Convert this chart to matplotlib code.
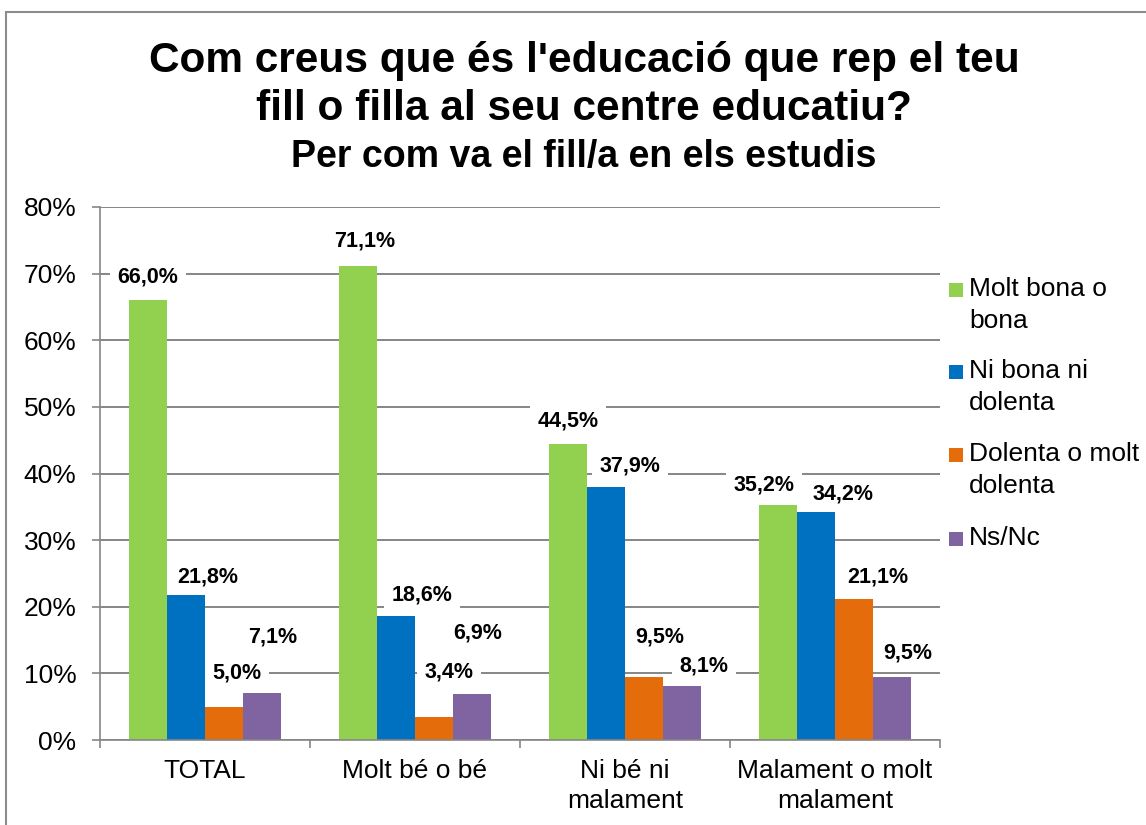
import matplotlib.pyplot as plt
from matplotlib.patches import Rectangle
import numpy as np

plt.rcParams['font.family'] = ['Liberation Sans', 'DejaVu Sans']

categories = ['TOTAL', 'Molt bé o bé', 'Ni bé ni\nmalament', 'Malament o molt\nmalament']
series_names = ['Molt bona o\nbona', 'Ni bona ni\ndolenta', 'Dolenta o molt\ndolenta', 'Ns/Nc']
molt_bona = [66.0, 71.1, 44.5, 35.2]
ni_bona = [21.8, 18.6, 37.9, 34.2]
dolenta = [5.0, 3.4, 9.5, 21.1]
ns_nc = [7.1, 6.9, 8.1, 9.5]
y_ticks = [0, 10, 20, 30, 40, 50, 60, 70, 80]

series = [molt_bona, ni_bona, dolenta, ns_nc]
colors = ['#92D050', '#0070C0', '#E46C0A', '#8064A2']

# label offsets from the top of each bar, in pixels (dx, dy), as placed in the original
label_offsets = [
    [(0, 23), (7, 25), (0, 23), (-14, 20)],
    [(22, 18), (26, 21), (24, 21), (27, 18)],
    [(13, 34), (15, 45), (16, 40), (24, 22)],
    [(11, 56), (6, 61), (22, 20), (16, 24)],
]

W, H = 1146, 825
fig = plt.figure(figsize=(W / 100, H / 100), dpi=100)
ax = fig.add_axes([100 / W, 1 - 740 / H, 840 / W, 533 / H])

x = np.arange(len(categories))
bw = 0.181
px = 0.72  # pixels -> points

for i, vals in enumerate(series):
    pos = x + (i - 1.5) * bw
    ax.bar(pos, vals, width=bw, color=colors[i], zorder=2)
    for j, v in enumerate(vals):
        dx, dy = label_offsets[i][j]
        ax.annotate(f"{v:.1f}".replace('.', ',') + '%', (pos[j], v),
                    xytext=(dx * px, dy * px), textcoords='offset points',
                    ha='center', va='center', fontsize=15.5, fontweight='bold',
                    bbox=dict(boxstyle='square,pad=0.35', fc='white', ec='none'),
                    zorder=3)

ax.set_xlim(-0.5, 3.5)
ax.set_ylim(0, 80)
ax.set_yticks(y_ticks)
ax.set_yticklabels([f"{t}%" for t in y_ticks], fontsize=19)
ax.set_xticks(x)
ax.set_xticklabels(categories, fontsize=19, linespacing=1.3)
ax.set_xticks(np.arange(-0.5, 4, 1), minor=True)
ax.tick_params(axis='x', which='major', length=0, pad=14)
ax.tick_params(axis='x', which='minor', length=6, color='#868686', width=1.2)
ax.tick_params(axis='y', length=6, color='#868686', width=1.2, pad=11)
ax.grid(axis='y', color='#868686', linewidth=1.4, zorder=0)
ax.set_axisbelow(True)
for s in ['top', 'right']:
    ax.spines[s].set_visible(False)
for s in ['left', 'bottom']:
    ax.spines[s].set_color('#868686')
    ax.spines[s].set_linewidth(1.2)

# titles
fig.text(584 / W, 1 - 72 / H, "Com creus que és l'educació que rep el teu",
         ha='center', va='baseline', fontsize=30.5, fontweight='bold')
fig.text(584 / W, 1 - 120 / H, "fill o filla al seu centre educatiu?",
         ha='center', va='baseline', fontsize=30.5, fontweight='bold')
fig.text(584 / W, 1 - 167 / H, "Per com va el fill/a en els estudis",
         ha='center', va='baseline', fontsize=27, fontweight='bold')

# legend
legend_y = [290, 372, 455, 539]
for name, c, yy in zip(series_names, colors, legend_y):
    fig.add_artist(Rectangle((949 / W, 1 - (yy + 7) / H), 14 / W, 14 / H,
                             transform=fig.transFigure, fc=c, ec='none'))
    fig.text(969 / W, 1 - (yy - 13) / H, name, ha='left', va='top',
             fontsize=19, linespacing=1.4)

# outer border
fig.add_artist(Rectangle((6 / W, -0.1), 2, 1 - 12 / H + 0.1, transform=fig.transFigure,
                         fill=False, ec='#8c8c8c', lw=1.5))

fig.savefig('out.png', dpi=100)
